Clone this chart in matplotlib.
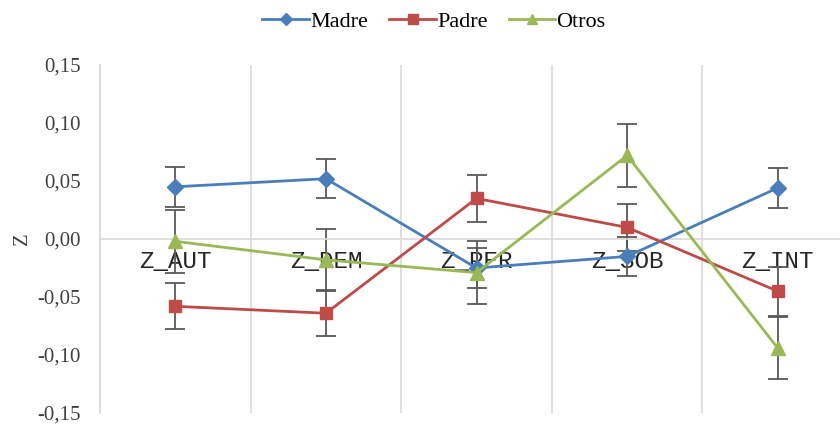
import matplotlib

matplotlib.use("Agg")
import matplotlib.pyplot as plt
from matplotlib.ticker import FuncFormatter, FixedLocator

# --- data -----------------------------------------------------------------
categories = ["Z_AUT", "Z_DEM", "Z_PER", "Z_SOB", "Z_INT"]
madre = [0.045, 0.052, -0.025, -0.015, 0.044]
padre = [-0.058, -0.064, 0.035, 0.010, -0.045]
otros = [-0.002, -0.018, -0.029, 0.072, -0.094]
madre_err = [0.017, 0.017, 0.017, 0.017, 0.017]
padre_err = [0.020, 0.020, 0.020, 0.020, 0.021]
otros_err = [0.027, 0.027, 0.027, 0.027, 0.027]

BLUE = "#4A7EBB"
RED = "#BE4B48"
GREEN = "#98B954"
ERR = "#595959"
GRID = "#D9D9D9"

plt.rcParams["font.family"] = ["Liberation Serif", "DejaVu Serif"]

fig = plt.figure(figsize=(8.4, 4.26), dpi=100)
ax = fig.add_axes([100 / 840, 13 / 426, 753 / 840, 348 / 426])
ax.set_axisbelow(True)

# axis lines first: moving a spine resets its ticks
for side in ["top", "right"]:
    ax.spines[side].set_visible(False)
ax.spines["left"].set_color(GRID)
ax.spines["left"].set_linewidth(1.2)
ax.spines["bottom"].set_position(("data", 0))
ax.spines["bottom"].set_color(GRID)
ax.spines["bottom"].set_linewidth(1.2)

x = list(range(len(categories)))
series = [
    ("Madre", madre, madre_err, BLUE, "D", 8),
    ("Padre", padre, padre_err, RED, "s", 9),
    ("Otros", otros, otros_err, GREEN, "^", 10),
]
for name, vals, err, color, marker, ms in series:
    ax.errorbar(x, vals, yerr=err, fmt="none", ecolor=ERR, elinewidth=1.3,
                capsize=7, capthick=1.3, zorder=2)
    ax.plot(x, vals, color=color, lw=2.0, marker=marker, ms=ms,
            markeredgecolor=color, label=name, zorder=3)

ax.set_xlim(-0.5, len(categories) - 0.5)
ax.set_ylim(-0.15, 0.15)
ax.set_yticks([-0.15, -0.10, -0.05, 0.0, 0.05, 0.10, 0.15])
ax.yaxis.set_major_formatter(FuncFormatter(lambda v, _: f"{v:.2f}".replace(".", ",")))
ax.tick_params(axis="y", length=0, pad=14, labelsize=15, labelcolor="#404040")

# category labels sit under the zero line, gridlines between categories
ax.set_xticks(x)
ax.set_xticklabels(categories, family="Liberation Mono", fontsize=17.5, color="#262626")
ax.xaxis.set_minor_locator(FixedLocator([i - 0.5 for i in range(len(categories) + 1)]))
ax.tick_params(axis="x", which="both", length=0, pad=8)
ax.grid(axis="x", which="minor", color=GRID, lw=1.2)

ax.set_ylabel("Z", fontsize=15, color="#404040", labelpad=4)

fig.legend(loc="center", bbox_to_anchor=(434 / 840, 1 - 22 / 426), ncol=3,
           frameon=False, fontsize=16, handlelength=2.1, handletextpad=0.05,
           columnspacing=0.95, markerscale=0.75)

fig.savefig("out.png", dpi=100, facecolor="white")
